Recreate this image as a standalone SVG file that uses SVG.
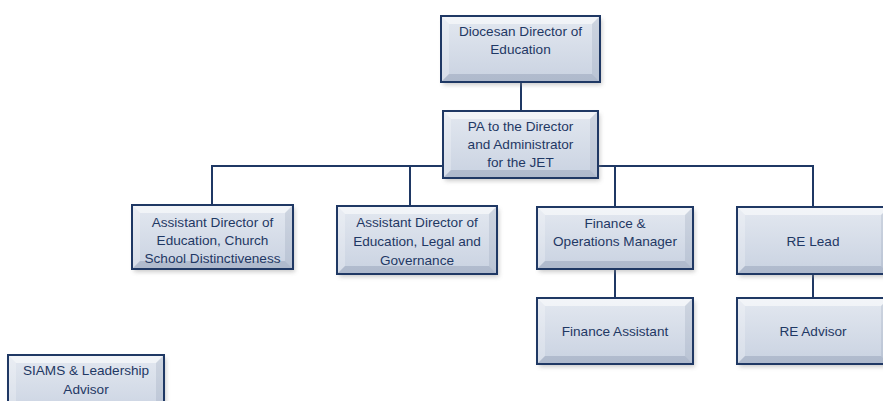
<svg xmlns="http://www.w3.org/2000/svg" width="883" height="401" viewBox="0 0 883 401">
<defs>
<linearGradient id="face" x1="0" y1="0" x2="0" y2="1">
<stop offset="0" stop-color="#e3e8f0"/>
<stop offset="1" stop-color="#c9d2e1"/>
</linearGradient>
<filter id="sh" x="-10%" y="-10%" width="130%" height="140%">
<feGaussianBlur stdDeviation="2"/>
</filter>
</defs>
<style>
.shadow{fill:#8c8c8c;opacity:0.45;filter:url(#sh)}
.face{fill:url(#face)}
.bt{fill:#ffffff;opacity:0.55}
.bl{fill:#ffffff;opacity:0.25}
.bb{fill:#7f8ca6;opacity:0.35}
.br{fill:#7f8ca6;opacity:0.2}
.frame{fill:none;stroke:#1f3864;stroke-width:2}
.conn{fill:none;stroke:#1f3864;stroke-width:2}
text{font-family:"Liberation Sans",Arial,sans-serif;font-size:13.6px;fill:#1f3864;text-anchor:middle}
</style>
<rect width="883" height="401" fill="#ffffff"/>
<g id="connectors">
<line class="conn" x1="521" y1="82" x2="521" y2="111"/>
<polyline class="conn" points="212,205 212,166 443,166"/>
<line class="conn" x1="410" y1="166" x2="410" y2="206"/>
<polyline class="conn" points="598,166 813,166 813,207"/>
<line class="conn" x1="615" y1="166" x2="615" y2="207"/>
<line class="conn" x1="615" y1="269" x2="615" y2="298"/>
<line class="conn" x1="813" y1="274" x2="813" y2="298"/>
</g>
<g id="dir">
<rect class="shadow" x="443" y="19" width="159" height="66"/>
<rect class="face" x="441" y="16" width="159" height="66"/>
<polygon class="bt" points="441,16 600,16 592,24 449,24"/>
<polygon class="bl" points="441,16 449,24 449,74 441,82"/>
<polygon class="bb" points="441,82 449,74 592,74 600,82"/>
<polygon class="br" points="600,16 600,82 592,74 592,24"/>
<rect class="frame" x="441" y="16" width="159" height="66"/>
<text x="520.5" y="36">Diocesan Director of</text>
<text x="520.5" y="54">Education</text>
</g>
<g id="pa">
<rect class="shadow" x="445" y="114" width="155" height="67"/>
<rect class="face" x="443" y="111" width="155" height="67"/>
<polygon class="bt" points="443,111 598,111 590,119 451,119"/>
<polygon class="bl" points="443,111 451,119 451,170 443,178"/>
<polygon class="bb" points="443,178 451,170 590,170 598,178"/>
<polygon class="br" points="598,111 598,178 590,170 590,119"/>
<rect class="frame" x="443" y="111" width="155" height="67"/>
<text x="520.5" y="131">PA to the Director</text>
<text x="520.5" y="149">and Administrator</text>
<text x="520.5" y="167">for the JET</text>
</g>
<g id="adc">
<rect class="shadow" x="134" y="208" width="161" height="64"/>
<rect class="face" x="132" y="205" width="161" height="64"/>
<polygon class="bt" points="132,205 293,205 285,213 140,213"/>
<polygon class="bl" points="132,205 140,213 140,261 132,269"/>
<polygon class="bb" points="132,269 140,261 285,261 293,269"/>
<polygon class="br" points="293,205 293,269 285,261 285,213"/>
<rect class="frame" x="132" y="205" width="161" height="64"/>
<text x="212.5" y="227">Assistant Director of</text>
<text x="212.5" y="245">Education, Church</text>
<text x="212.5" y="263">School Distinctiveness</text>
</g>
<g id="adl">
<rect class="shadow" x="339" y="209" width="160" height="68"/>
<rect class="face" x="337" y="206" width="160" height="68"/>
<polygon class="bt" points="337,206 497,206 489,214 345,214"/>
<polygon class="bl" points="337,206 345,214 345,266 337,274"/>
<polygon class="bb" points="337,274 345,266 489,266 497,274"/>
<polygon class="br" points="497,206 497,274 489,266 489,214"/>
<rect class="frame" x="337" y="206" width="160" height="68"/>
<text x="417" y="227">Assistant Director of</text>
<text x="417" y="246">Education, Legal and</text>
<text x="417" y="265">Governance</text>
</g>
<g id="fom">
<rect class="shadow" x="539" y="210" width="156" height="62"/>
<rect class="face" x="537" y="207" width="156" height="62"/>
<polygon class="bt" points="537,207 693,207 685,215 545,215"/>
<polygon class="bl" points="537,207 545,215 545,261 537,269"/>
<polygon class="bb" points="537,269 545,261 685,261 693,269"/>
<polygon class="br" points="693,207 693,269 685,261 685,215"/>
<rect class="frame" x="537" y="207" width="156" height="62"/>
<text x="615" y="228">Finance &amp;</text>
<text x="615" y="246">Operations Manager</text>
</g>
<g id="fa">
<rect class="shadow" x="539" y="301" width="156" height="66"/>
<rect class="face" x="537" y="298" width="156" height="66"/>
<polygon class="bt" points="537,298 693,298 685,306 545,306"/>
<polygon class="bl" points="537,298 545,306 545,356 537,364"/>
<polygon class="bb" points="537,364 545,356 685,356 693,364"/>
<polygon class="br" points="693,298 693,364 685,356 685,306"/>
<rect class="frame" x="537" y="298" width="156" height="66"/>
<text x="615" y="336">Finance Assistant</text>
</g>
<g id="rel">
<rect class="shadow" x="739" y="210" width="152" height="67"/>
<rect class="face" x="737" y="207" width="152" height="67"/>
<polygon class="bt" points="737,207 889,207 881,215 745,215"/>
<polygon class="bl" points="737,207 745,215 745,266 737,274"/>
<polygon class="bb" points="737,274 745,266 881,266 889,274"/>
<polygon class="br" points="889,207 889,274 881,266 881,215"/>
<rect class="frame" x="737" y="207" width="152" height="67"/>
<text x="813" y="246">RE Lead</text>
</g>
<g id="rea">
<rect class="shadow" x="739" y="301" width="152" height="66"/>
<rect class="face" x="737" y="298" width="152" height="66"/>
<polygon class="bt" points="737,298 889,298 881,306 745,306"/>
<polygon class="bl" points="737,298 745,306 745,356 737,364"/>
<polygon class="bb" points="737,364 745,356 881,356 889,364"/>
<polygon class="br" points="889,298 889,364 881,356 881,306"/>
<rect class="frame" x="737" y="298" width="152" height="66"/>
<text x="813" y="336">RE Advisor</text>
</g>
<g id="siams">
<rect class="shadow" x="10" y="358" width="156" height="62"/>
<rect class="face" x="8" y="355" width="156" height="62"/>
<polygon class="bt" points="8,355 164,355 156,363 16,363"/>
<polygon class="bl" points="8,355 16,363 16,409 8,417"/>
<polygon class="br" points="164,355 164,417 156,409 156,363"/>
<rect class="frame" x="8" y="355" width="156" height="62"/>
<text x="86" y="375">SIAMS &amp; Leadership</text>
<text x="86" y="394">Advisor</text>
</g>
</svg>
